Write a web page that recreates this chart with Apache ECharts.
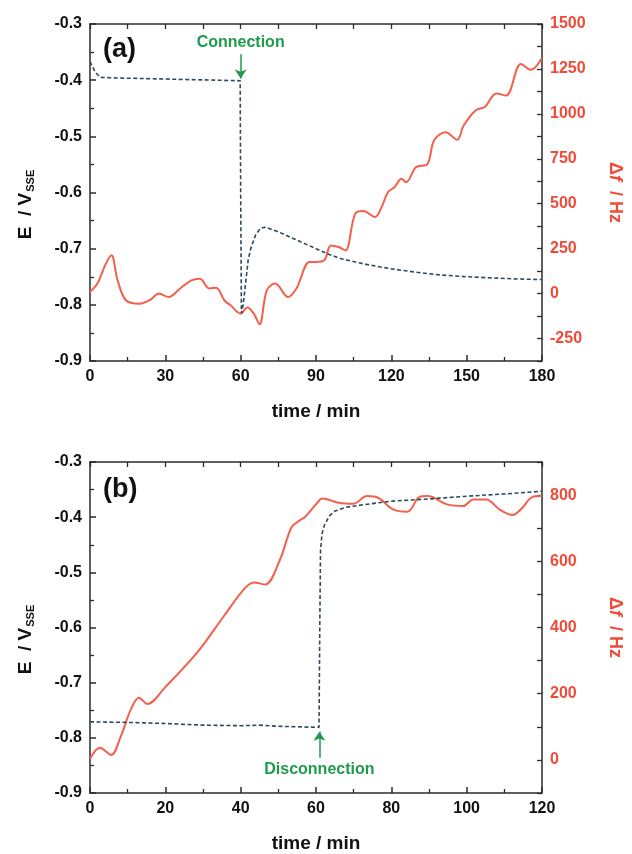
<!DOCTYPE html>
<html>
<head>
<meta charset="utf-8">
<script src="https://cdn.jsdelivr.net/npm/echarts@6/dist/echarts.min.js"></script>
<style>html,body{margin:0;padding:0;background:#fff}#c{width:632px;height:854px}</style>
</head>
<body>
<div id="c"></div>
<script>
// ---------- Panel (a) ----------
const timeA_E = [0, 2, 4, 10, 20, 30, 40, 50, 59.8, 60, 60.3, 61, 62, 63, 64, 66, 68, 70, 75, 80, 85, 90, 95, 100, 110, 120, 130, 140, 150, 160, 170, 180];
const potA = [-0.367, -0.385, -0.395, -0.396, -0.397, -0.398, -0.399, -0.400, -0.401, -0.60, -0.815, -0.80, -0.76, -0.72, -0.70, -0.675, -0.663, -0.662, -0.670, -0.680, -0.690, -0.700, -0.710, -0.718, -0.728, -0.736, -0.742, -0.747, -0.750, -0.752, -0.754, -0.755];
const timeA_F = [0, 3, 6, 8.5, 11, 14.3, 19.6, 24, 27.4, 31.3, 36, 40.4, 43.7, 47.6, 50.2, 53.5, 56, 60, 62.6, 65.2, 67.5, 70.4, 73.7, 78.9, 82.2, 87.4, 90, 93.3, 95.9, 99, 101.7, 105.6, 108.9, 113.5, 116.1, 118.7, 121.3, 124, 125.9, 129.8, 134.4, 137, 141.6, 146.2, 148.8, 153.4, 157.3, 161.8, 165.7, 171.6, 175.5, 180];
const freqA = [9, 57, 157, 213, 74, -37, -56, -35, 0, -19, 30, 74, 83, 28, 33, -37, -65, -111, -78, -111, -171, 18, 56, -19, 28, 176, 176, 185, 268, 259, 240, 444, 459, 426, 481, 565, 592, 639, 620, 703, 722, 852, 898, 856, 935, 1018, 1040, 1114, 1102, 1278, 1245, 1311];

// ---------- Panel (b) ----------
const timeB_E = [0, 10, 20, 30, 40, 45, 50, 55, 60.8, 61.0, 61.2, 61.6, 62.2, 63.5, 65, 68, 72, 80, 90, 100, 110, 120];
const potB = [-0.771, -0.772, -0.774, -0.777, -0.778, -0.777, -0.779, -0.780, -0.781, -0.60, -0.46, -0.43, -0.415, -0.398, -0.389, -0.382, -0.378, -0.371, -0.367, -0.362, -0.358, -0.353];
const timeB_F = [0, 2.6, 5.6, 8.2, 10.8, 13, 15.2, 20, 28.7, 35.7, 40.9, 43.5, 46.5, 50.4, 53.5, 55.6, 57, 60, 61.7, 66, 70, 73.5, 76.5, 80.4, 84.3, 87.4, 89.6, 94.8, 99.1, 101.7, 105.2, 108.7, 112.2, 114.8, 117.4, 120];
const freqB = [3, 37, 15, 72, 151, 188, 169, 220, 328, 437, 516, 536, 530, 604, 703, 723, 733, 772, 790, 777, 774, 797, 792, 757, 750, 794, 797, 772, 767, 787, 787, 757, 740, 762, 794, 797];

// ---------- Axes / ticks ----------
const xRangeA = [0, 180], xStepA = 30;
const xRangeB = [0, 120], xStepB = 20;
const eRange = [-0.9, -0.3], eStep = 0.1;
const fRangeA = [-375, 1500], fStepA = 125, fLabelStepA = 250;
const fRangeB = [-100, 900], fStepB = 100, fLabelStepB = 200, fLabelMaxB = 800, fLabelMinB = 0;
const annotA = {text: 'Connection', t: 60, from: -0.354, to: -0.397};
const annotB = {text: 'Disconnection', t: 60.9, from: -0.836, to: -0.789};

const pairs = (xs, ys) => xs.map((x, i) => [x, ys[i]]);

const FONT = '"Liberation Sans", Arial, sans-serif';
const DARK = '#2b2b2b';
const RED = '#f3604d';
const REDTXT = '#f04a38';
const DASH = '#2c4a5a';
const GREEN = '#1e9a4c';

function xBottom(grid, range, step, name) {
  return {
    type: 'value', gridIndex: grid, position: 'bottom', min: range[0], max: range[1], interval: step,
    axisLine: {show: true, onZero: false, lineStyle: {color: DARK, width: 1.5}},
    axisTick: {show: true, inside: true, length: 6, lineStyle: {color: DARK, width: 1.5}},
    minorTick: {show: true, splitNumber: 2, length: 4, lineStyle: {color: DARK, width: 1.3}},
    splitLine: {show: false},
    axisLabel: {color: '#111', fontSize: 16, fontWeight: 'bold', fontFamily: FONT, margin: 8},
    name: name, nameLocation: 'middle', nameGap: 41,
    nameTextStyle: {color: '#111', fontSize: 19, fontWeight: 'bold', fontFamily: FONT}
  };
}
function xTop(grid, range, step) {
  return {
    type: 'value', gridIndex: grid, position: 'top', min: range[0], max: range[1], interval: step,
    axisLine: {show: true, onZero: false, lineStyle: {color: DARK, width: 1.5}},
    axisTick: {show: true, inside: true, length: 5, lineStyle: {color: DARK, width: 1.3}},
    axisLabel: {show: false}, splitLine: {show: false}
  };
}
function yLeft(grid) {
  return {
    type: 'value', gridIndex: grid, position: 'left', min: eRange[0], max: eRange[1], interval: eStep,
    axisLine: {show: true, onZero: false, lineStyle: {color: DARK, width: 1.5}},
    axisTick: {show: true, inside: true, length: 6, lineStyle: {color: DARK, width: 1.5}},
    minorTick: {show: true, splitNumber: 2, length: 4, lineStyle: {color: DARK, width: 1.3}},
    splitLine: {show: false},
    axisLabel: {color: '#111', fontSize: 16, fontWeight: 'bold', fontFamily: FONT, margin: 8,
      formatter: v => v.toFixed(1)},
    name: '{e|E  / V}{s|SSE}', nameLocation: 'middle', nameGap: 54, nameRotate: 90,
    nameTextStyle: {padding: [0, 24, 0, 0], rich: {
      e: {color: '#111', fontSize: 19, fontWeight: 'bold', fontFamily: FONT},
      s: {color: '#111', fontSize: 11, fontWeight: 'bold', fontFamily: FONT, verticalAlign: 'bottom', padding: [9, 0, 0, 1]}
    }}
  };
}
function yRight(grid, range, step, labelOk) {
  return {
    type: 'value', gridIndex: grid, position: 'right', min: range[0], max: range[1], interval: step,
    axisLine: {show: true, onZero: false, lineStyle: {color: DARK, width: 1.5}},
    axisTick: {show: true, inside: true, length: 5, lineStyle: {color: DARK, width: 1.3}},
    splitLine: {show: false},
    axisLabel: {color: REDTXT, fontSize: 16, fontWeight: 'bold', fontFamily: FONT, margin: 8, interval: 0,
      formatter: v => labelOk(v) ? String(v) : ''},
    name: '{d|Δ}{f|f}{d|  / Hz}', nameLocation: 'middle', nameGap: 64, nameRotate: -90,
    nameTextStyle: {rich: {
      d: {color: REDTXT, fontSize: 18, fontWeight: 'bold', fontFamily: FONT},
      f: {color: REDTXT, fontSize: 18, fontWeight: 'bold', fontStyle: 'italic', fontFamily: FONT}
    }}
  };
}
function annot(a) {
  return {
    silent: true, symbol: ['none', 'arrow'], symbolSize: 9, animation: false,
    lineStyle: {color: GREEN, type: 'solid', width: 1.5},
    label: {show: true, position: 'start', formatter: a.text, color: GREEN, fontSize: 16,
      fontWeight: 'bold', fontFamily: FONT, distance: 4},
    data: [[{coord: [a.t, a.from]}, {coord: [a.t, a.to]}]]
  };
}

const chart = echarts.init(document.getElementById('c'), null, {renderer: 'canvas'});
chart.setOption({
  animation: false,
  backgroundColor: '#fff',
  grid: [
    {left: 90, right: 82, top: 24, height: 337},
    {left: 90, right: 82, top: 462, height: 337}
  ],
  xAxis: [
    xBottom(0, xRangeA, xStepA, 'time / min'),
    xTop(0, xRangeA, xStepA / 2),
    xBottom(1, xRangeB, xStepB, 'time / min'),
    xTop(1, xRangeB, xStepB / 2)
  ],
  yAxis: [
    yLeft(0),
    yRight(0, fRangeA, fStepA, v => v % fLabelStepA === 0),
    yLeft(1),
    yRight(1, fRangeB, fStepB, v => v % fLabelStepB === 0 && v >= fLabelMinB && v <= fLabelMaxB)
  ],
  graphic: [
    {type: 'text', left: 103, top: 36, style: {text: '(a)', fontSize: 27, fontWeight: 'bold', fontFamily: FONT, fill: '#111'}},
    {type: 'text', left: 103, top: 476, style: {text: '(b)', fontSize: 27, fontWeight: 'bold', fontFamily: FONT, fill: '#111'}}
  ],
  series: [
    {type: 'line', xAxisIndex: 0, yAxisIndex: 1, data: pairs(timeA_F, freqA), showSymbol: false, smooth: 0.35,
      lineStyle: {color: RED, width: 2}, z: 2},
    {type: 'line', xAxisIndex: 0, yAxisIndex: 0, data: pairs(timeA_E, potA), showSymbol: false,
      lineStyle: {color: DASH, width: 1.6, type: [4, 2.5]}, z: 3, markLine: annot(annotA)},
    {type: 'line', xAxisIndex: 2, yAxisIndex: 3, data: pairs(timeB_F, freqB), showSymbol: false, smooth: 0.35,
      lineStyle: {color: RED, width: 2}, z: 2},
    {type: 'line', xAxisIndex: 2, yAxisIndex: 2, data: pairs(timeB_E, potB), showSymbol: false,
      lineStyle: {color: DASH, width: 1.6, type: [4, 2.5]}, z: 3, markLine: annot(annotB)}
  ]
});
</script>
</body>
</html>
